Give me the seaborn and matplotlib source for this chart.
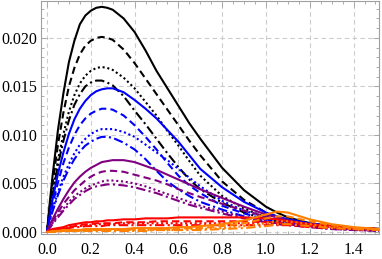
import numpy as np
import pandas as pd
import seaborn as sns
import matplotlib
matplotlib.use("Agg")
import matplotlib.pyplot as plt
from matplotlib.ticker import MultipleLocator, FormatStrFormatter

# ---- data ----
x_vals = [0, .0125, .025, .05, .075, .1, .125, .15, .175, .2, .225, .25, .275, .3, .35, .4, .45, .5,
          .55, .6, .65, .7, .8, .9, 1.0, 1.05, 1.1, 1.2, 1.3, 1.4, 1.52]

black_solid = [0, .0030, .0057, .0105, .0143, .0175, .0197, .0214, .0223, .0228, .0231, .0232, .0231, .0229, .0220, .0206,
               .0187, .0166, .0148, .0130, .0112, .0096, .0066, .0043, .0026, .0020, .0015, .0009, .0006, .0004, .0003]
black_dashed = [0, .0026, .0049, .0090, .0123, .0150, .0169, .0183, .0192, .0197, .0200, .0201, .0200, .0198, .0188, .0174,
                .0158, .0142, .0126, .0110, .0094, .0079, .0052, .0033, .0020, .0016, .0012, .0008, .0005, .0004, .0003]
black_dotted = [0, .0021, .0040, .0074, .0101, .0124, .0141, .0153, .0161, .0166, .0169, .0170, .0169, .0167, .0159, .0148,
                .0134, .0120, .0104, .0089, .0073, .0058, .0037, .0024, .0015, .0012, .0010, .0007, .0005, .0004, .0003]
black_dotdash = [0, .0020, .0038, .0069, .0094, .0115, .0131, .0142, .0150, .0154, .0156, .0156, .0154, .0151, .0140, .0125,
                 .0111, .0096, .0081, .0067, .0054, .0044, .0030, .0020, .0013, .0011, .0009, .0007, .0005, .0004, .0003]

blue_solid = [0, .0017, .0033, .0060, .0082, .0101, .0116, .0127, .0135, .0141, .0145, .0147, .0148, .0148, .0144, .0136,
              .0127, .0117, .0105, .0093, .0079, .0065, .0046, .0031, .0020, .0016, .0013, .0009, .0006, .0004, .0003]
blue_dashed = [0, .0015, .0028, .0051, .0071, .0087, .0100, .0110, .0117, .0122, .0125, .0127, .0127, .0126, .0120, .0110,
               .0098, .0085, .0071, .0058, .0048, .0040, .0027, .0019, .0013, .0011, .0009, .0007, .0005, .0004, .0003]
blue_dotted = [0, .0012, .0022, .0041, .0057, .0070, .0081, .0090, .0096, .0101, .0104, .0106, .0106, .0106, .0103, .0098,
               .0090, .0082, .0074, .0065, .0056, .0047, .0032, .0022, .0015, .0012, .0010, .0007, .0005, .0004, .0003]
blue_dotdash = [0, .0011, .0021, .0038, .0053, .0065, .0075, .0083, .0089, .0093, .0096, .0098, .0098, .0097, .0092, .0085,
                .0075, .0063, .0052, .0044, .0037, .0031, .0023, .0016, .0011, .0009, .0008, .0006, .0005, .0004, .0003]

purple_solid = [0, .0007, .0013, .0024, .0034, .0043, .0051, .0057, .0062, .0066, .0069, .0072, .0073, .0074, .0074, .0072,
                .0068, .0064, .0059, .0054, .0049, .0044, .0035, .0026, .0018, .0015, .0012, .0008, .0005, .0003, .0002]
purple_dashed = [0, .0006, .0011, .0020, .0029, .0036, .0043, .0048, .0053, .0057, .0060, .0062, .0063, .0063, .0062, .0059,
                 .0056, .0053, .0049, .0044, .0040, .0036, .0029, .0022, .0016, .0013, .0011, .0007, .0004, .0003, .0002]
purple_dotted = [0, .0005, .0009, .0017, .0024, .0031, .0037, .0041, .0045, .0048, .0050, .0052, .0053, .0053, .0052, .0050,
                 .0047, .0043, .0039, .0035, .0031, .0027, .0021, .0015, .0011, .0009, .0008, .0005, .0003, .0002, .0001]
purple_dotdash = [0, .0004, .0008, .0015, .0022, .0028, .0034, .0038, .0042, .0045, .0047, .0048, .0049, .0049, .0048, .0046,
                  .0043, .0040, .0036, .0032, .0028, .0025, .0019, .0014, .0010, .0008, .0007, .0005, .0003, .0002, .0001]

red_solid = [0, .0002, .0003, .0004, .0005, .0007, .0008, .0009, .0010, .0010, .0011, .0011, .0012, .0012, .0013, .0013,
             .0014, .0014, .0014, .0015, .0015, .0015, .0015, .0015, .0014, .0013, .0011, .0008, .0006, .0004, .0003]
red_dashed = [0, .0001, .0002, .0003, .0004, .0005, .0006, .0007, .0008, .0008, .0009, .0009, .0009, .0009, .0010, .0010,
              .0010, .0011, .0011, .0011, .0011, .0011, .0011, .0011, .0010, .0010, .0009, .0007, .0005, .0004, .0003]
red_dotted = [0, .0001, .0002, .0003, .0004, .0005, .0006, .0006, .0007, .0007, .0008, .0008, .0008, .0008, .0009, .0009,
              .0009, .0009, .0009, .0009, .0009, .0009, .0009, .0009, .0009, .0008, .0008, .0006, .0005, .0004, .0003]
red_dotdash = [0, .0001, .0002, .0002, .0003, .0004, .0005, .0005, .0006, .0006, .0006, .0006, .0007, .0007, .0007, .0007,
               .0007, .0007, .0007, .0007, .0007, .0007, .0007, .0007, .0007, .0007, .0007, .0005, .0004, .0003, .0002]

orange_solid = [0, 0, .0001, .0001, .0002, .0002, .0002, .0002, .0003, .0003, .0003, .0003, .0003, .0003, .0003, .0004,
                .0004, .0004, .0004, .0005, .0005, .0006, .0008, .0012, .0018, .0021, .0020, .0013, .0008, .0005, .0003]
orange_dashed = [0, 0, .0001, .0001, .0001, .0001, .0001, .0002, .0002, .0002, .0002, .0002, .0002, .0002, .0002, .0003,
                 .0003, .0003, .0003, .0003, .0004, .0004, .0006, .0009, .0014, .0016, .0016, .0011, .0007, .0004, .0003]
orange_dotted = [0, 0, 0, .0001, .0001, .0001, .0001, .0001, .0001, .0001, .0002, .0002, .0002, .0002, .0002, .0002,
                 .0002, .0002, .0002, .0002, .0003, .0003, .0004, .0006, .0009, .0011, .0011, .0008, .0005, .0003, .0002]
orange_dotdash = [0, 0, 0, 0, .0001, .0001, .0001, .0001, .0001, .0001, .0001, .0001, .0001, .0001, .0001, .0001,
                  .0001, .0002, .0002, .0002, .0002, .0002, .0003, .0004, .0006, .0008, .0008, .0006, .0004, .0003, .0002]

families = ["black", "blue", "purple", "red", "orange"]
variants = ["solid", "dashed", "dotted", "dotdash"]
series = {
    ("black", "solid"): black_solid, ("black", "dashed"): black_dashed,
    ("black", "dotted"): black_dotted, ("black", "dotdash"): black_dotdash,
    ("blue", "solid"): blue_solid, ("blue", "dashed"): blue_dashed,
    ("blue", "dotted"): blue_dotted, ("blue", "dotdash"): blue_dotdash,
    ("purple", "solid"): purple_solid, ("purple", "dashed"): purple_dashed,
    ("purple", "dotted"): purple_dotted, ("purple", "dotdash"): purple_dotdash,
    ("red", "solid"): red_solid, ("red", "dashed"): red_dashed,
    ("red", "dotted"): red_dotted, ("red", "dotdash"): red_dotdash,
    ("orange", "solid"): orange_solid, ("orange", "dashed"): orange_dashed,
    ("orange", "dotted"): orange_dotted, ("orange", "dotdash"): orange_dotdash,
}

# ---- styling ----
sns.set_style("ticks")
plt.rcParams["font.family"] = ["Liberation Serif", "DejaVu Serif"]

palette = {"black": "#000000", "blue": "#0000ff", "purple": "#800080",
           "red": "#ff0000", "orange": "#ff8000"}
dashes = {"solid": "", "dashed": (3.5, 2.0), "dotted": (1.0, 1.3),
          "dotdash": (4.5, 1.6, 1.0, 1.6)}

fig = plt.figure(figsize=(3.82, 2.59), dpi=100)
ax = fig.add_axes([41 / 382, 1 - 234 / 259, 338 / 382, 233 / 259])

for fam in families:
    for var in variants:
        df = pd.DataFrame({"x": x_vals, "y": series[(fam, var)],
                           "fam": fam, "var": var})
        sns.lineplot(data=df, x="x", y="y", hue="fam", style="var",
                     palette=palette, dashes={var: dashes[var]},
                     linewidth=1.5, estimator=None, sort=False,
                     legend=False, ax=ax)

ax.set_xlim(-0.0274, 1.516)
ax.set_ylim(-0.00021, 0.0238)
ax.xaxis.set_major_locator(MultipleLocator(0.2))
ax.xaxis.set_minor_locator(MultipleLocator(0.05))
ax.yaxis.set_major_locator(MultipleLocator(0.005))
ax.yaxis.set_minor_locator(MultipleLocator(0.001))
ax.xaxis.set_major_formatter(FormatStrFormatter("%.1f"))
ax.yaxis.set_major_formatter(FormatStrFormatter("%.3f"))
ax.set_xlabel("")
ax.set_ylabel("")

ax.grid(True, which="major", color="#cccccc", linestyle=(0, (4, 3)), linewidth=0.8)
ax.set_axisbelow(True)
for s in ax.spines.values():
    s.set_color("#a0a0a0")
    s.set_linewidth(0.8)
ax.tick_params(which="both", direction="in", top=True, right=True,
               color="#a0a0a0", width=0.6, labelsize=11.5, labelcolor="black")
ax.tick_params(which="major", length=4)
ax.tick_params(axis="y", which="major", pad=3)
ax.tick_params(axis="x", which="major", pad=6)
ax.tick_params(which="minor", length=2)

fig.savefig("out.png", dpi=100)
